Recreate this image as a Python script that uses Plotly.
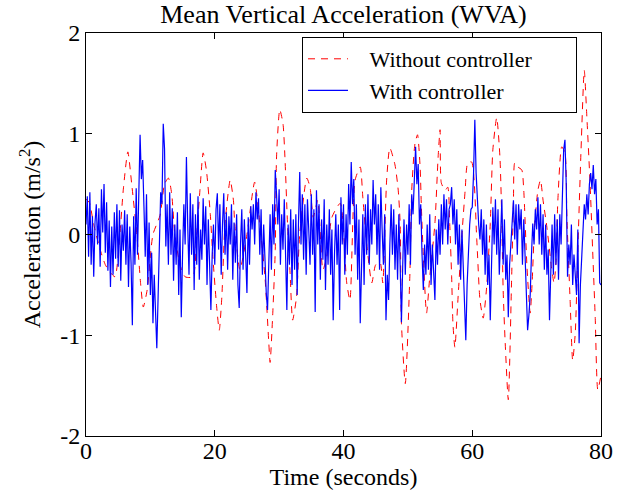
import numpy as np
import plotly.graph_objects as go

# With controller: samples every 0.2 s from 0 to 80 s
with_ctrl = [
    0.10, 0.38, -0.22, 0.42, -0.30,
    0.18, -0.42, 0.12, 0.30, -0.10,
    0.26, -0.32, 0.45, 0.02, 0.50,
    -0.18, 0.32, -0.36, 0.14, -0.52,
    0.08, -0.40, 0.22, -0.24, 0.30,
    -0.32, 0.24, -0.46, 0.10, -0.16,
    0.24, -0.30, 0.20, -0.52, 0.08,
    -0.28, -0.90, 0.18, -0.30, 0.46,
    -0.20, 0.30, 0.99, 0.55, 0.74,
    0.28, -0.22, 0.40, -0.50, 0.12,
    -0.60, -0.18, -0.88, -0.40, -0.70,
    -1.13, -0.62, 0.02, 0.42, 0.30,
    1.10, 0.85, -0.12, 0.30, -0.30,
    0.42, -0.20, 0.26, -0.46, 0.10,
    -0.30, 0.22, -0.60, 0.05, -0.82,
    -0.20, 0.30, -0.10, 0.77, 0.10,
    -0.40, 0.41, -0.20, 0.30, -0.55,
    0.20, -0.30, 0.38, -0.45, 0.05,
    -0.25, 0.36, -0.10, 0.28, -0.50,
    0.15, -0.35, -0.75, -0.20, 0.10,
    -0.30, 0.25, 0.41, -0.15, 0.30,
    -0.40, 0.10, 0.41, -0.20, 0.22,
    -0.35, 0.18, -0.10, 0.30, -0.45,
    0.12, -0.28, 0.20, -0.50, -0.73,
    -0.10, 0.25, -0.35, 0.15, -0.20,
    -0.58, 0.17, -0.30, 0.28, 0.05,
    0.30, -0.10, 0.42, 0.15, 0.36,
    -0.20, 0.25, -0.40, 0.10, -0.30,
    -0.58, -0.75, -0.20, 0.20, -0.35,
    0.30, -0.10, 0.64, 0.40, 0.10,
    0.45, -0.30, 0.20, -0.15, 0.35,
    -0.40, -0.75, 0.10, -0.30, 0.25,
    -0.50, 0.15, -0.35, 0.20, -0.60,
    0.10, 0.62, -0.10, 0.40, -0.25,
    0.30, -0.40, 0.35, 0.05, -0.30,
    0.40, -0.20, 0.25, -0.77, 0.44,
    -0.10, 0.30, -0.45, 0.15, -0.25,
    0.35, -0.55, 0.10, -0.30, 0.25,
    -0.40, 0.05, -0.85, -0.20, 0.20,
    -0.30, 0.10, -0.75, 0.37, -0.10,
    0.30, -0.40, 0.20, -0.20, 0.50,
    0.10, 0.72, 0.30, 0.55, -0.20,
    0.30, -0.45, 0.15, -0.88, -0.30,
    0.20, -0.50, 0.30, -0.20, 0.40,
    -0.30, 0.25, -0.10, 0.54, 0.10,
    0.40, -0.20, 0.30, -0.35, 0.47,
    0.05, -0.30, 0.20, -0.85, -0.40,
    -0.65, -0.10, 0.30, -0.20, 0.25,
    -0.35, 0.10, -0.45, 0.20, -0.30,
    -0.87, -0.30, 0.15, -0.40, 0.10,
    -0.20, 0.30, -0.30, 0.40, 0.20,
    0.60, 0.87, 0.50, 0.70, 0.10,
    0.30, -0.20, -0.55, -0.10, -0.40,
    0.10, -0.35, 0.20, -0.50, -0.10,
    -0.40, -0.65, 0.05, -0.30, 0.15,
    -0.20, 0.30, -0.10, 0.40, 0.05,
    0.35, -0.10, 0.25, 0.30, 0.47,
    0.10, 0.35, -0.10, 0.25, -0.30,
    0.10, -0.45, 0.05, -0.30, -0.58,
    -1.05, -0.50, -0.10, 0.10, 0.25,
    0.27, 0.60, 1.14, 0.61, 0.30,
    0.10, -0.05, 0.25, -0.20, 0.15,
    -0.40, 0.10, -0.50, -0.20, -0.85,
    -0.30, 0.27, -0.10, 0.35, -0.20,
    0.25, -0.40, 0.10, 0.35, -0.30,
    0.15, -0.45, -0.20, -0.82, -0.30,
    -0.10, 0.20, 0.34, -0.05, 0.30,
    -0.20, 0.30, 0.05, 0.25, -0.30,
    0.15, -0.20, -0.60, -0.95, -0.80,
    -0.60, -0.20, 0.11, -0.10, 0.25,
    0.05, 0.37, -0.10, 0.30, -0.20,
    0.20, -0.35, 0.10, -0.40, -0.15,
    -0.85, -0.30, 0.10, -0.40, 0.20,
    -0.30, 0.15, -0.45, 0.20, -0.10,
    0.30, 0.84, 0.94, 0.50, -0.42,
    -0.10, -0.30, 0.10, -0.50, -0.20,
    -0.40, -0.60, 0.05, -1.08, -0.50,
    -0.20, 0.10, 0.30, 0.15, 0.40,
    0.20, 0.50, 0.61, 0.45, 0.69,
    0.40, 0.55, 0.10, 0.25, -0.48,
    -0.50,
]
with_time = [i * 0.2 for i in range(len(with_ctrl))]

# Without controller: points
without_time = [
    0.0, 0.5, 1.2, 2.2, 3.0, 3.7, 4.5, 5.2, 5.8, 6.5, 7.1, 7.9, 8.5, 8.9, 9.5,
    10.4, 11.5, 12.2, 12.8, 13.3, 13.8, 14.6, 15.4, 16.6, 17.2, 17.7, 18.2, 18.7,
    19.3, 19.7, 20.3, 20.7, 21.1, 21.6, 22.4, 22.9, 23.1, 23.9, 25.0, 26.2, 27.0,
    27.8, 28.4, 28.6, 29.0, 29.4, 29.6, 30.1, 30.6, 30.9, 31.3, 31.7, 32.1, 32.7,
    33.2, 34.3, 34.8, 35.3, 36.0, 36.8, 37.4, 38.2, 39.5, 40.5, 41.0, 41.8, 42.6,
    43.0, 43.6, 44.4, 45.0, 45.7, 46.1, 46.7, 47.2, 48.0, 48.5, 48.8, 49.0, 49.6,
    50.3, 50.6, 51.1, 51.5, 51.9, 52.1, 52.4, 52.9, 53.4, 54.2, 54.7, 55.0, 55.2,
    55.8, 56.2, 56.5, 56.8, 57.0, 57.3, 57.8, 58.4, 58.9, 59.3, 59.9, 60.7, 61.2,
    61.7, 62.2, 62.8, 63.2, 63.8, 64.3, 64.6, 64.8, 65.1, 65.6, 66.1, 66.4, 66.6,
    67.1, 67.7, 68.0, 68.5, 69.0, 69.3, 69.7, 70.2, 70.6, 71.0, 71.6, 72.3, 72.7,
    73.0, 73.3, 73.9, 74.4, 74.7, 75.2, 75.6, 76.0, 76.4, 76.9, 77.4, 77.8, 78.3,
    78.7, 79.1, 79.5, 80.0,
]
without_ctrl = [
    0.35, 0.32, 0.10, -0.15, -0.30, -0.37, -0.42, -0.05, 0.45, 0.82, 0.50, 0.00, -0.50, -0.72, -0.55,
    0.00, 0.19, 0.50, 0.56, 0.41, 0.00, -0.30, -0.42, -0.42, 0.00, 0.44, 0.81, 0.64,
    0.21, -0.22, -0.72, -0.95, -0.62, 0.11, 0.54, 0.34, 0.11, -0.35, 0.00, 0.52, 0.11,
    -0.42, -1.08, -1.27, -0.80, -0.15, 0.77, 1.24, 1.10, 0.77, 0.11, -0.38, -0.85, -0.62,
    0.01, 0.56, 0.47, 0.17, 0.34, -0.35, -0.22, 0.17, 0.31, -0.48, -0.65, 0.54, 0.67,
    0.37, -0.09, -0.48, -0.30, -0.28, -0.48, 0.54, 0.86, 0.69, 0.44, 0.11, -0.88, -1.48,
    -0.42, 0.44, 0.90, 0.99, 0.67, 0.27, -0.22, -0.78, -0.42, 0.11, 0.77, 1.04, 0.51,
    0.44, 0.47, 0.11, -0.42, -0.88, -1.12, -0.62, 0.00, 0.44, 0.71, 0.72, -0.05, -0.65,
    -0.83, -0.55, 0.11, 0.84, 1.16, 0.77, 0.11, -0.55, -1.05, -1.64, -0.48, 0.34, 0.71,
    0.67, 0.64, 0.44, -0.32, -0.78, -0.48, 0.11, 0.44, 0.54, 0.34, 0.07, -0.32, -0.48,
    -0.28, 0.34, 0.87, 0.81, 0.17, -0.65, -1.25, -0.98, -0.15, 0.84, 1.63, 1.17, 0.51,
    -0.15, -0.82, -1.54, -1.40,
]

x_ticks = [0, 20, 40, 60, 80]
y_ticks = [-2, -1, 0, 1, 2]

FONT = "Liberation Serif"
FS = 24
LFS = 22
NB = "\u00a0"

fig = go.Figure()
fig.add_trace(go.Scatter(
    x=without_time, y=without_ctrl, mode="lines",
    name=NB * 3 + "Without controller" + NB * 7,
    line=dict(color="#ff0000", width=1, dash="7px,6px", shape="spline", smoothing=0.6),
))
fig.add_trace(go.Scatter(
    x=with_time, y=with_ctrl, mode="lines", name=NB * 3 + "With controller",
    line=dict(color="#0000ff", width=1.2),
))

axis_common = dict(
    showline=True, linecolor="black", linewidth=1, mirror="ticks",
    ticks="inside", ticklen=6, tickcolor="black", tickwidth=1,
    showgrid=False, zeroline=False, automargin=False,
    tickfont=dict(family=FONT, size=FS, color="black"),
)

fig.update_layout(
    template="none",
    width=623, height=493,
    margin=dict(l=86, r=22, t=33, b=57, autoexpand=False),
    paper_bgcolor="white", plot_bgcolor="white",
    font=dict(family=FONT, size=FS, color="black"),
    title=dict(text="Mean Vertical Acceleration (WVA)", x=0.5, xref="paper",
               y=1 - 14 / 493, yref="container", xanchor="center", yanchor="middle",
               font=dict(family=FONT, size=26, color="black")),
    showlegend=True,
    legend=dict(x=(302 - 86) / 515, y=(436 - 37) / 403, xanchor="left", yanchor="top",
                bgcolor="white", bordercolor="black", borderwidth=1,
                font=dict(family=FONT, size=LFS, color="black"),
                itemwidth=40, tracegroupgap=0),
    xaxis=dict(range=[0, 80], tickvals=x_ticks, ticktext=[str(v) for v in x_ticks],
               ticklabelstandoff=-7,
               title=dict(text="Time (seconds)", standoff=0,
                          font=dict(family=FONT, size=FS, color="black")),
               **axis_common),
    yaxis=dict(range=[-2, 2], tickvals=y_ticks, ticktext=[str(v) for v in y_ticks],
               title=dict(text="Acceleration (m/s<sup>2</sup>)", standoff=12,
                          font=dict(family=FONT, size=FS, color="black")),
               **axis_common),
)

fig.write_html("out.html", config={"displayModeBar": False},
               post_script="document.body.style.margin='0';")
